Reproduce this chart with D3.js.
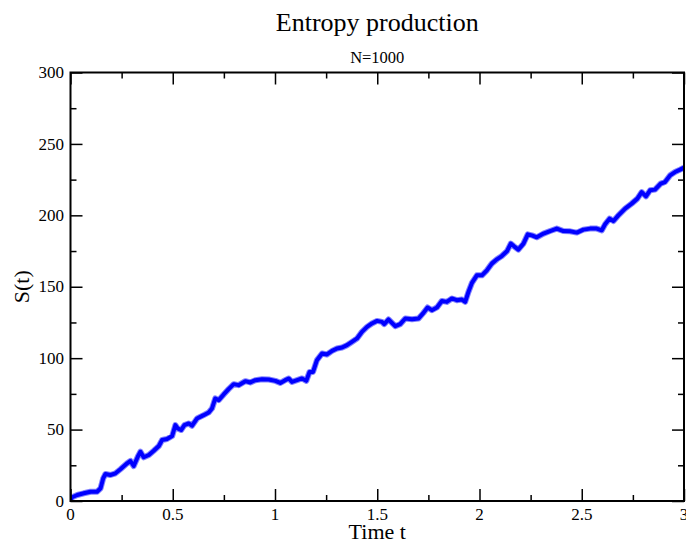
<!DOCTYPE html>
<html>
<head>
<meta charset="utf-8">
<script src="https://cdn.jsdelivr.net/npm/d3@7"></script>
<style>
  html, body { margin: 0; padding: 0; background: #fff; }
  svg { display: block; }
  text { font-family: "Liberation Serif", "Times New Roman", serif; fill: #000; }
</style>
</head>
<body>
<svg id="chart" width="686" height="545"></svg>
<script>
// Entropy production S(t) for N=1000, sampled along the trajectory
const timeValues = [
  0.000, 0.008, 0.033, 0.065, 0.098, 0.130, 0.147, 0.160, 0.171, 0.195,
  0.220, 0.244, 0.277, 0.293, 0.309, 0.329, 0.342, 0.358, 0.383, 0.407,
  0.432, 0.448, 0.472, 0.497, 0.513, 0.524, 0.541, 0.557, 0.578, 0.594,
  0.619, 0.651, 0.676, 0.692, 0.708, 0.725, 0.749, 0.773, 0.798, 0.822,
  0.855, 0.879, 0.904, 0.937, 0.969, 1.002, 1.026, 1.050, 1.067, 1.083,
  1.108, 1.132, 1.153, 1.169, 1.186, 1.205, 1.230, 1.254, 1.279, 1.303,
  1.328, 1.352, 1.376, 1.401, 1.425, 1.450, 1.474, 1.499, 1.523, 1.534,
  1.555, 1.588, 1.612, 1.637, 1.670, 1.702, 1.726, 1.746, 1.767, 1.792,
  1.816, 1.840, 1.865, 1.889, 1.914, 1.930, 1.946, 1.963, 1.987, 2.012,
  2.036, 2.060, 2.085, 2.109, 2.134, 2.153, 2.169, 2.190, 2.215, 2.236,
  2.256, 2.280, 2.313, 2.345, 2.378, 2.410, 2.443, 2.476, 2.508, 2.541,
  2.573, 2.598, 2.614, 2.636, 2.655, 2.679, 2.712, 2.744, 2.772, 2.793,
  2.814, 2.834, 2.858, 2.886, 2.907, 2.932, 2.956, 2.981, 3.000
];
const entropyValues = [
  0.5, 2.6, 4.2, 5.4, 6.5, 6.5, 8.9, 15.9, 18.9, 18.2,
  19.4, 22.2, 26.4, 28.0, 24.5, 31.0, 34.5, 30.6, 32.2, 35.2,
  38.5, 42.7, 43.4, 45.5, 53.1, 50.8, 49.7, 53.1, 54.3, 52.7,
  57.8, 60.1, 62.0, 64.8, 71.8, 70.6, 74.6, 78.3, 81.8, 81.1,
  83.9, 83.0, 84.6, 85.3, 85.1, 84.1, 82.7, 84.6, 85.8, 83.4,
  84.6, 85.8, 84.1, 90.4, 90.4, 98.6, 103.3, 102.6, 105.1, 106.8,
  107.5, 109.1, 111.4, 113.8, 118.4, 121.9, 124.3, 126.1, 125.4, 123.8,
  127.1, 122.4, 123.8, 127.8, 127.3, 127.8, 131.7, 135.5, 133.6, 135.5,
  140.1, 139.4, 141.8, 140.6, 141.0, 139.4, 146.4, 152.7, 158.0, 158.0,
  161.5, 166.2, 169.2, 171.5, 174.8, 180.2, 178.3, 176.0, 180.2, 186.7,
  186.0, 184.6, 187.2, 189.0, 190.7, 189.0, 188.8, 187.9, 190.0, 190.7,
  190.7, 189.5, 193.7, 197.7, 196.0, 200.0, 204.7, 208.2, 211.7, 216.3,
  213.3, 217.5, 218.0, 222.2, 223.3, 228.0, 230.3, 232.0, 233.4
];

const xMajorTicks = [0, 0.5, 1, 1.5, 2, 2.5, 3];
const xMinorTicks = [0.25, 0.75, 1.25, 1.75, 2.25, 2.75];
const yMajorTicks = [0, 50, 100, 150, 200, 250, 300];
const yMinorTicks = [25, 75, 125, 175, 225, 275];
const xTickLabels = ["0", "0.5", "1", "1.5", "2", "2.5", "3"];
const yTickLabels = ["0", "50", "100", "150", "200", "250", "300"];

const titleText = "Entropy production";
const subtitleText = "N=1000";
const xLabelText = "Time t";
const yLabelText = "S(t)";

const svg = d3.select("#chart");
const plot = { left: 70.5, right: 684, top: 72.5, bottom: 501 };

const x = d3.scaleLinear().domain([0, 3]).range([plot.left, plot.right]);
const y = d3.scaleLinear().domain([0, 300]).range([plot.bottom, plot.top]);

const points = timeValues.map((t, i) => [t, entropyValues[i]]);

// Data curve, clipped to the frame
svg.append("clipPath").attr("id", "plotClip")
  .append("rect")
  .attr("x", plot.left).attr("y", plot.top)
  .attr("width", plot.right - plot.left).attr("height", plot.bottom - plot.top);

const line = d3.line().x(d => x(d[0])).y(d => y(d[1]));

const curve = svg.append("g").attr("clip-path", "url(#plotClip)");
curve.append("path")
  .datum(points)
  .attr("d", line)
  .attr("fill", "none")
  .attr("stroke", "#1a1aff")
  .attr("stroke-width", 6)
  .attr("stroke-linejoin", "round")
  .attr("stroke-opacity", 0.55);
curve.append("path")
  .datum(points)
  .attr("d", line)
  .attr("fill", "none")
  .attr("stroke", "#0000ff")
  .attr("stroke-width", 4)
  .attr("stroke-linejoin", "round");

// Axes with inward ticks on every side
const majorLen = 12, minorLen = 6;
const styleAxis = (g) => {
  g.select(".domain").remove();
  g.selectAll(".tick line").attr("stroke", "#000").attr("stroke-width", 1.5);
};

const fmtX = (d, i) => xTickLabels[xMajorTicks.indexOf(d)];
const fmtY = (d) => yTickLabels[yMajorTicks.indexOf(d)];

// bottom
svg.append("g").attr("transform", `translate(0,${plot.bottom})`)
  .call(d3.axisTop(x).tickValues(xMajorTicks).tickSize(majorLen).tickFormat(""))
  .call(styleAxis);
svg.append("g").attr("transform", `translate(0,${plot.bottom})`)
  .call(d3.axisTop(x).tickValues(xMinorTicks).tickSize(minorLen).tickFormat(""))
  .call(styleAxis);
// top
svg.append("g").attr("transform", `translate(0,${plot.top})`)
  .call(d3.axisBottom(x).tickValues(xMajorTicks).tickSize(majorLen).tickFormat(""))
  .call(styleAxis);
svg.append("g").attr("transform", `translate(0,${plot.top})`)
  .call(d3.axisBottom(x).tickValues(xMinorTicks).tickSize(minorLen).tickFormat(""))
  .call(styleAxis);
// left
svg.append("g").attr("transform", `translate(${plot.left},0)`)
  .call(d3.axisRight(y).tickValues(yMajorTicks).tickSize(majorLen).tickFormat(""))
  .call(styleAxis);
svg.append("g").attr("transform", `translate(${plot.left},0)`)
  .call(d3.axisRight(y).tickValues(yMinorTicks).tickSize(minorLen).tickFormat(""))
  .call(styleAxis);
// right
svg.append("g").attr("transform", `translate(${plot.right},0)`)
  .call(d3.axisLeft(y).tickValues(yMajorTicks).tickSize(majorLen).tickFormat(""))
  .call(styleAxis);
svg.append("g").attr("transform", `translate(${plot.right},0)`)
  .call(d3.axisLeft(y).tickValues(yMinorTicks).tickSize(minorLen).tickFormat(""))
  .call(styleAxis);

// Frame
svg.append("rect")
  .attr("x", plot.left).attr("y", plot.top)
  .attr("width", plot.right - plot.left).attr("height", plot.bottom - plot.top)
  .attr("fill", "none").attr("stroke", "#000").attr("stroke-width", 2);

// Tick labels
svg.append("g").selectAll("text")
  .data(xMajorTicks).join("text")
  .attr("x", d => x(d)).attr("y", 520)
  .attr("text-anchor", "middle")
  .attr("font-size", 17)
  .text(fmtX);

svg.append("g").selectAll("text")
  .data(yMajorTicks).join("text")
  .attr("x", 64).attr("y", d => y(d))
  .attr("dy", "0.33em")
  .attr("text-anchor", "end")
  .attr("font-size", 17)
  .text(fmtY);

// Titles
svg.append("text")
  .attr("x", (plot.left + plot.right) / 2).attr("y", 31)
  .attr("text-anchor", "middle").attr("font-size", 26)
  .text(titleText);
svg.append("text")
  .attr("x", (plot.left + plot.right) / 2).attr("y", 63)
  .attr("text-anchor", "middle").attr("font-size", 16.5)
  .text(subtitleText);

// Axis labels
svg.append("text")
  .attr("x", (plot.left + plot.right) / 2).attr("y", 539)
  .attr("text-anchor", "middle").attr("font-size", 22)
  .text(xLabelText);
svg.append("text")
  .attr("transform", `translate(28.5,${(plot.top + plot.bottom) / 2}) rotate(-90)`)
  .attr("text-anchor", "middle").attr("font-size", 22)
  .text(yLabelText);
</script>
</body>
</html>
